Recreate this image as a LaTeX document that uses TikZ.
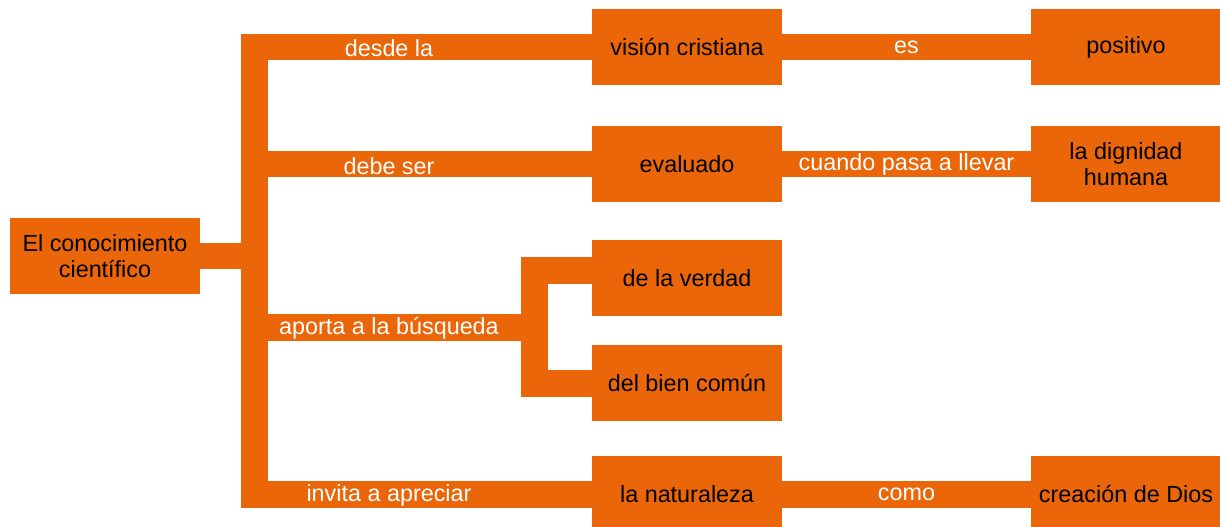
\documentclass[tikz,border=0pt]{standalone}
\usepackage{fontspec}
\setmainfont{Liberation Sans}
\usepackage{tikz}
\definecolor{mapaorange}{RGB}{235, 102, 8}

\begin{document}
\begin{tikzpicture}[x=0.02cm, y=-0.02cm,
    concepto/.style={rectangle, fill=mapaorange, text=black, minimum width=3.8cm, minimum height=1.52cm, inner sep=0pt, align=center, font=\fontsize{13.3}{15}\selectfont},
    barra/.style={draw=mapaorange, line width=0.54cm, line join=miter},
    enlace/.style={text=white, inner sep=0pt, font=\fontsize{13.3}{15}\selectfont}]
					\useasboundingbox (0,0) rectangle (1220,527);
					% conceptos
					\node[concepto] (raiz) at (105,256) {El conocimiento\\científico};
					\node[concepto] (vision) at (687,47) {visión cristiana};
					\node[concepto] (positivo) at (1126,47) {positivo};
					\node[concepto] (evaluado) at (687,164) {evaluado};
					\node[concepto] (dignidad) at (1126,164) {la dignidad\\humana};
					\node[concepto] (verdad) at (687,278) {de la verdad};
					\node[concepto] (bien) at (687,383) {del bien común};
					\node[concepto] (naturaleza) at (687,494) {la naturaleza};
					\node[concepto] (creacion) at (1126,494) {creación de Dios};
					\coordinate (espina) at (254.5,256);
					\coordinate (rama) at (534,327.5);
					% enlaces
					\draw[barra] (raiz.east) -- (espina);
					\draw[barra] (vision.west) -| (espina) |- (naturaleza.west);
					\draw[barra] (espina |- evaluado) -- (evaluado.west);
					\draw[barra] (espina |- rama) -- (rama);
					\draw[barra] ([yshift=0.16cm]verdad.west) -| (rama) |- (bien.west);
					\node[enlace] (desde) at (389,48) {desde la};
					\node[enlace] (debe) at (389,166) {debe ser};
					\node[enlace] (aporta) at (389,328) {aporta a la búsqueda};
					\node[enlace] (invita) at (389,495) {invita a apreciar};
					\foreach \a/\b/\t in {vision/positivo/es, evaluado/dignidad/cuando pasa a llevar, naturaleza/creacion/como} {
						\draw[barra] (\a.east) -- node[enlace] (e\a) {\t} (\b.west);
					}
				\end{tikzpicture}
\end{document}
